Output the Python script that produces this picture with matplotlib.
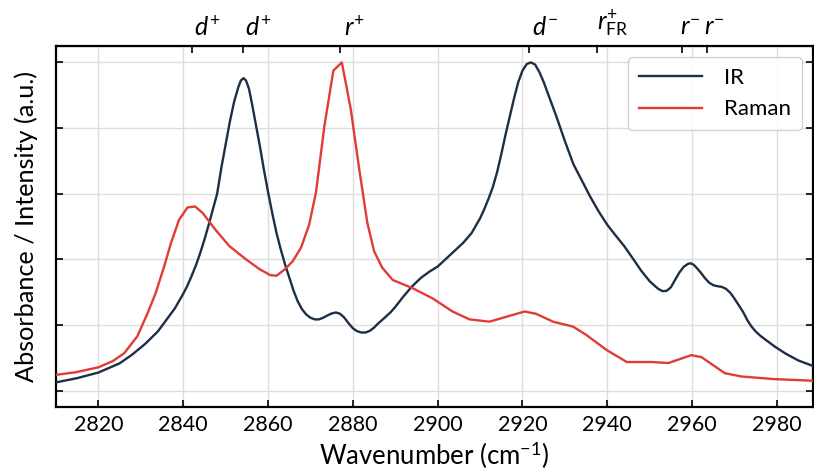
import matplotlib
matplotlib.use("Agg")
import matplotlib.pyplot as plt

plt.rcParams['font.family'] = ['Lato', 'DejaVu Sans']
plt.rcParams['mathtext.fontset'] = 'custom'
plt.rcParams['mathtext.rm'] = 'Lato'
plt.rcParams['mathtext.it'] = 'Lato:italic'
plt.rcParams['mathtext.bf'] = 'Lato:bold'

ir_x = [2810, 2815, 2820, 2825, 2828, 2831, 2834, 2836, 2838, 2840, 2841, 2842, 2843, 2844,
        2845, 2846, 2847, 2848, 2849, 2850, 2851, 2852, 2853, 2853.6, 2854.2, 2854.8, 2855.5,
        2856.2, 2857, 2858, 2859, 2860, 2861, 2862, 2863, 2864, 2865, 2866, 2867, 2868,
        2869, 2870, 2871, 2872, 2873, 2874, 2875, 2876, 2877, 2878, 2879, 2880, 2881, 2882,
        2883, 2884, 2885, 2886, 2887.5, 2889, 2890, 2892, 2894, 2896, 2898, 2900, 2902, 2904,
        2906, 2908, 2910, 2911, 2912, 2913, 2914, 2915, 2916, 2917, 2918, 2919, 2920, 2921,
        2922, 2923, 2924, 2925, 2926, 2927, 2928, 2930, 2932, 2934, 2936, 2938, 2940, 2942,
        2944, 2946, 2948, 2950, 2952, 2953, 2954, 2955, 2956, 2957, 2958, 2959, 2959.6,
        2960.3, 2961, 2962, 2963, 2964, 2965, 2966, 2967, 2968, 2969, 2970, 2971, 2972,
        2973, 2974, 2975, 2976, 2977, 2979.5, 2982, 2985, 2988.5]
ir_y = [0.025, 0.038, 0.055, 0.083, 0.11, 0.142, 0.18, 0.215, 0.25, 0.295, 0.32, 0.35, 0.382, 0.419,
        0.46, 0.505, 0.553, 0.60, 0.68, 0.75, 0.82, 0.88, 0.925, 0.945, 0.952, 0.945, 0.92,
        0.875, 0.82, 0.75, 0.675, 0.605, 0.54, 0.48, 0.43, 0.385, 0.345, 0.305, 0.272, 0.248,
        0.232, 0.222, 0.217, 0.217, 0.222, 0.229, 0.235, 0.238, 0.234, 0.222, 0.205, 0.19, 0.181, 0.177,
        0.177, 0.182, 0.192, 0.205, 0.222, 0.24, 0.255, 0.288, 0.318, 0.343, 0.362, 0.378, 0.402, 0.426,
        0.45, 0.48, 0.525, 0.553, 0.585, 0.62, 0.665, 0.72, 0.78, 0.835, 0.89, 0.94, 0.975, 0.995,
        1.0, 0.993, 0.97, 0.94, 0.905, 0.87, 0.835, 0.76, 0.69, 0.64, 0.59, 0.545, 0.505, 0.472,
        0.44, 0.403, 0.365, 0.333, 0.31, 0.303, 0.304, 0.315, 0.338, 0.36, 0.377, 0.386, 0.388,
        0.384, 0.375, 0.36, 0.343, 0.329, 0.321, 0.318, 0.316, 0.31, 0.298, 0.28, 0.26, 0.24,
        0.215, 0.195, 0.18, 0.168, 0.158, 0.134, 0.113, 0.092, 0.075]

raman_x = [2810, 2814.7, 2820, 2823.4, 2826.1, 2829.2, 2831.6, 2833.5, 2835.5, 2837.1, 2839,
           2841, 2842.8, 2844.6, 2847.6, 2850.9, 2854.8, 2858, 2860.5, 2862, 2864, 2865.8,
           2867.8, 2869.7, 2871.3, 2873.3, 2875.4, 2877.4, 2879.5, 2881.5, 2883.4, 2885,
           2886.9, 2889.4, 2894.1, 2898.8, 2903.5, 2907.5, 2912.2, 2916.2, 2920.5, 2923.2,
           2927.2, 2931.9, 2935, 2939.8, 2944.6, 2950.5, 2954.4, 2959.8, 2962.2, 2967.7,
           2971.6, 2979.4, 2988.5]
raman_y = [0.048, 0.056, 0.071, 0.09, 0.114, 0.166, 0.236, 0.297, 0.378, 0.449, 0.52,
           0.558, 0.561, 0.541, 0.49, 0.44, 0.40, 0.37, 0.352, 0.35, 0.37, 0.394,
           0.436, 0.506, 0.604, 0.807, 0.975, 1.0, 0.858, 0.675, 0.512, 0.425,
           0.375, 0.337, 0.312, 0.281, 0.241, 0.217, 0.21, 0.225, 0.241, 0.234,
           0.21, 0.195, 0.17, 0.124, 0.087, 0.087, 0.084, 0.108, 0.102, 0.053,
           0.043, 0.035, 0.03]

band_pos = [2842, 2854, 2877, 2921.6, 2937.6, 2957.6, 2963.5]
band_labels = [r'$d^{+}$', r'$d^{+}$', r'$r^{+}$', r'$d^{-}$', r'$r^{+}_{\mathrm{FR}}$',
               r'$r^{-}$', r'$r^{-}$']
band_label_shift = [11, 11, 10, 11, 11, 6, 5]  # points
x_ticks = [2820, 2840, 2860, 2880, 2900, 2920, 2940, 2960, 2980]
y_ticks = [0.0, 0.2, 0.4, 0.6, 0.8, 1.0]

fig = plt.figure(figsize=(8.14, 4.75), dpi=100)
ax = fig.add_axes([56/814, 1-407/475, 757/814, 361/475])

ax.plot(ir_x, ir_y, color='#1d2f45', lw=1.7, label='IR', zorder=3)
ax.plot(raman_x, raman_y, color='#e03c35', lw=1.7, label='Raman', zorder=3)

ax.set_xlim(2810, 2988.5)
ax.set_ylim(-0.05, 1.05)
ax.set_xticks(x_ticks)
ax.set_yticks(y_ticks)
ax.set_yticklabels([])
ax.grid(True, color='#dddddd', lw=1.0)
ax.set_axisbelow(True)
ax.tick_params(direction='in', length=5, width=1.2, labelsize=15.5, right=True, top=False, pad=6)
for s in ax.spines.values():
    s.set_linewidth(1.6)

ax.set_xlabel(r'Wavenumber (cm$^{-1}$)', fontsize=18.5, labelpad=3)
ax.set_ylabel('Absorbance / Intensity (a.u.)', fontsize=18.2, labelpad=7)

sec = ax.secondary_xaxis('top')
sec.set_xticks(band_pos)
sec.set_xticklabels([])
sec.tick_params(direction='in', length=5, width=1.2)

for pos, lab, dx in zip(band_pos, band_labels, band_label_shift):
    ax.annotate(lab, xy=(pos, 1.0), xycoords=('data', 'axes fraction'),
                xytext=(dx, 5), textcoords='offset points',
                ha='center', va='bottom', fontsize=18, annotation_clip=False)

leg = ax.legend(loc='upper right', fontsize=16, frameon=True, fancybox=True,
                edgecolor='#cccccc', framealpha=0.9, handlelength=2.8, borderpad=0.5,
                labelspacing=0.5, handletextpad=1.0)

fig.savefig('out.png', dpi=100)
